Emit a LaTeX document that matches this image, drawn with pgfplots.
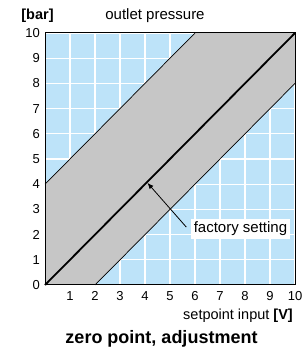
\documentclass[border=0pt]{standalone}
\usepackage{pgfplots}
\pgfplotsset{compat=1.18}
\usetikzlibrary{arrows.meta}
\usepackage{fontspec}
\setmainfont{Liberation Sans}
\definecolor{bgblue}{HTML}{BDE3F9}
\definecolor{bandgray}{HTML}{C6C6C6}
\begin{document}
\begin{tikzpicture}
\useasboundingbox (-45pt,-62pt) rectangle (257pt,285pt);
\begin{axis}[
  at={(0,0)}, anchor=south west,
  scale only axis, width=250pt, height=252pt,
  xmin=0, xmax=10, ymin=0, ymax=10,
  xtick={1,...,10}, ytick={0,...,10},
  grid=major, major grid style={white, line width=1.3pt},
  axis background/.style={fill=bgblue},
  tick style={draw=none},
  axis line style={line width=1pt},
  /pgf/number format/assume math mode=true,
  ticklabel style={font=\fontsize{13}{15}\selectfont},
  yticklabel style={inner sep=0pt, xshift=-5pt},
  xticklabel style={inner sep=0pt, yshift=-6pt},
  clip=false,
]
\addplot[fill=bandgray, draw=none] coordinates {(0,0) (0,4) (6,10) (10,10) (10,8) (2,0)} -- cycle;
\addplot[black, line width=0.7pt] coordinates {(0,4) (6,10)};
\addplot[black, line width=0.7pt] coordinates {(2,0) (10,8)};
\addplot[black, line width=1.8pt] coordinates {(0,0) (10,10)};
\draw[line width=1pt] (rel axis cs:0,0) rectangle (rel axis cs:1,1);
\draw[line width=0.8pt, -{Latex[length=6pt,width=5pt]}] (axis cs:5.65,2.3) -- (axis cs:4.1,4.05);
\node[fill=white, inner sep=3pt, font=\fontsize{15}{17}\selectfont] at (axis cs:7.82,2.22) {factory setting};
\node[font=\fontsize{14.5}{16}\selectfont\bfseries] at (axis cs:-0.3,10.67) {[bar]};
\node[font=\fontsize{15}{17}\selectfont] at (axis cs:4.4,10.67) {outlet pressure};
\node[anchor=east, font=\fontsize{14.5}{16}\selectfont, inner sep=0pt] at (axis cs:9.92,-1.23) {setpoint input \textbf{[V]}};
\node[font=\fontsize{18}{20}\selectfont\bfseries] at (axis cs:4.66,-2.12) {zero point, adjustment};
\end{axis}
\end{tikzpicture}
\end{document}
